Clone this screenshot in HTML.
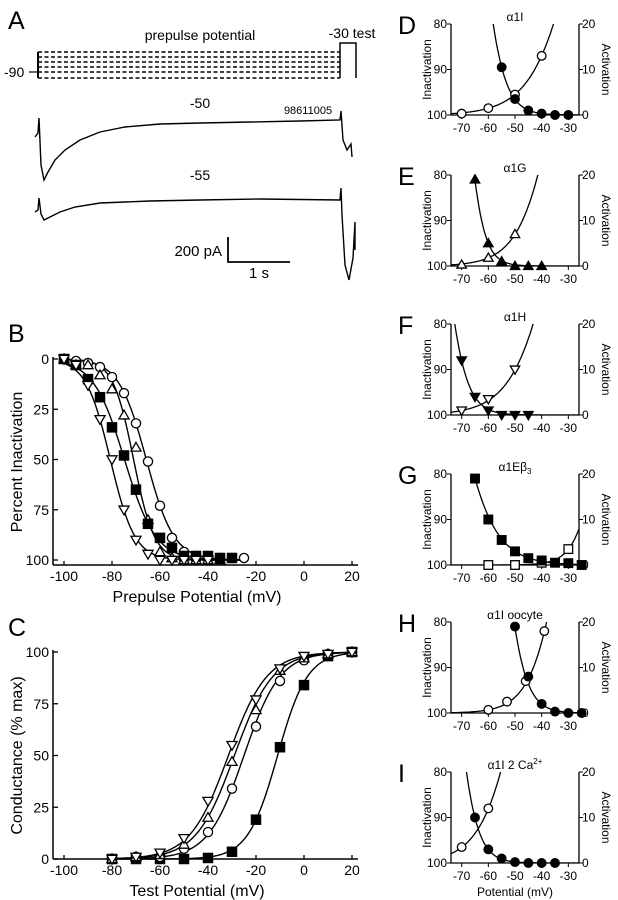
<!DOCTYPE html>
<html><head><meta charset="utf-8"><style>
body{margin:0;background:#fff}
svg{display:block;font-family:"Liberation Sans",sans-serif}
</style></head><body>
<svg id="fig" width="618" height="900" viewBox="0 0 618 900">
<g fill="none" stroke="#000">
<text x="8" y="29" font-size="25" fill="#000" stroke="none">A</text>
<text x="200" y="40" font-size="14" text-anchor="middle" fill="#000" stroke="none">prepulse potential</text>
<text x="352" y="38" font-size="14" text-anchor="middle" fill="#000" stroke="none">-30 test</text>
<text x="4" y="77" font-size="14" fill="#000" stroke="none">-90</text>
<line x1="29" y1="72" x2="38" y2="72" stroke-width="1.2"/>
<line x1="38" y1="52" x2="38" y2="78" stroke-width="2"/>
<g stroke-dasharray="4,2.5" stroke-width="1.5">
<line x1="38" y1="52" x2="340" y2="52"/><line x1="38" y1="57" x2="340" y2="57"/><line x1="38" y1="62" x2="340" y2="62"/><line x1="38" y1="67" x2="340" y2="67"/><line x1="38" y1="72" x2="340" y2="72"/><line x1="38" y1="78" x2="340" y2="78"/>
</g>
<polyline points="340,78 340,43 356,43 356,78" stroke-width="1.5"/>
<text x="200" y="108" font-size="14" text-anchor="middle" fill="#000" stroke="none">-50</text>
<text x="308" y="114" font-size="11" text-anchor="middle" fill="#000" stroke="none">98611005</text>
<path d="M35,137 L38,133 L39,118 L41,165 L44,180 L48,172 L55,160 L65,150 L80,140 L100,132 L125,127 L160,124 L200,123 L250,122 L300,121 L340,120 L341,111 L343,140 L347,150 L351,144 L352,157" stroke-width="1.4"/>
<text x="200" y="180" font-size="14" text-anchor="middle" fill="#000" stroke="none">-55</text>
<path d="M35,212 L38,210 L39,198 L41,214 L44,220 L50,217 L60,212 L75,207 L100,203 L150,201 L200,200 L260,199 L340,200 L341,188 L342,215 L345,265 L349,280 L353,258 L355,222 L355,250" stroke-width="1.4"/>
<polyline points="228,237 228,262 290,262" stroke-width="1.8"/>
<text x="222" y="256" font-size="15" text-anchor="end" fill="#000" stroke="none">200 pA</text>
<text x="259" y="278" font-size="15" text-anchor="middle" fill="#000" stroke="none">1 s</text>
</g>
<g id="gb"></g><g id="gc"></g><g id="gr"></g>
</svg>
<script>
const NS="http://www.w3.org/2000/svg";
function mk(p,t,a){const e=document.createElementNS(NS,t);for(const k in a)e.setAttribute(k,a[k]);p.appendChild(e);return e;}
function txt(p,x,y,s,size,anchor,extra){const e=mk(p,'text',Object.assign({x:x,y:y,'font-size':size,'text-anchor':anchor||'start',fill:'#000'},extra||{}));e.textContent=s;return e;}
function marker(p,shape,x,y,r){
  const filled=shape[0]==='f';const s=shape.slice(1);
  const st={fill:filled?'#000':'#fff',stroke:'#000','stroke-width':1.3};
  let e;
  if(s==='circ')e=mk(p,'circle',Object.assign({cx:x,cy:y,r:r},st));
  else if(s==='sq')e=mk(p,'rect',Object.assign({x:x-r,y:y-r,width:2*r,height:2*r},st));
  else if(s==='up')e=mk(p,'polygon',Object.assign({points:`${x},${y-r*1.1} ${x-r*1.1},${y+r*0.8} ${x+r*1.1},${y+r*0.8}`},st));
  else e=mk(p,'polygon',Object.assign({points:`${x},${y+r*1.1} ${x-r*1.1},${y-r*0.8} ${x+r*1.1},${y-r*0.8}`},st));
  return e;
}
function boltz(v,v50,k){return 100/(1+Math.exp(-(v-v50)/k));}

// ---------- Panel B data ----------
const bVolt=[-100,-95,-90,-85,-80,-75,-70,-65,-60,-55,-50,-45,-40,-35,-30,-25];
const bCircle=[0,1,2,4,9,17,32,51,73,89,96,98,99,99,99,99];
const bTriUp=[0,3,3,8,15,28,44,80,96,99,100,100,100,100,null,null];
const bSquare=[0,3,10,19,34,48,65,82,89,94,98,98,98,99,99,null];
const bTriDown=[0,3,13,30,50,75,90,97,100,100,100,100,100,null,null,null];
const bFitV50=[-65.7,-71,-74.8,-80.7];
const bFitK=[5.75,4.3,6.5,5.1];
// ---------- Panel C data ----------
const cVolt=[-80,-70,-60,-50,-40,-30,-20,-10,0,10,20];
const cSquare=[0,0,0,0,0.5,3.5,19,54,84,98,100];
const cCircle=[0,1,1,5,13,34,64,86,96,99,100];
const cTriUp=[0,1,2,7,20,47,72,91,97,99,100];
const cTriDown=[0,1,3,10,28,55,77,92,98,99,100];
const cFitV50=[-11,-25,-29,-31.5];
const cFitK=[6.2,7.5,8,8];
const xTicks=[-100,-80,-60,-40,-20,0,20];

function xBC(v){return 64+(v+100)*2.4;}
function drawMain(g,name,yMap,yTicks,series,volt,fitV50,fitK,xTitle,yTitle,letter,letterY,axisOff,titleOff){
  
  
  const topY=Math.min(yMap(yTicks[0]),yMap(yTicks[yTicks.length-1]));
  const bot=Math.max(yMap(yTicks[0]),yMap(yTicks[yTicks.length-1]));
  const axisY=bot+axisOff;
  txt(g,8,letterY,letter,25,'start');
  const ya=mk(g,'line',{x1:53,y1:topY-2,x2:53,y2:axisY,stroke:'#000','stroke-width':1.5});
  
  
  const xa=mk(g,'line',{x1:53,y1:axisY,x2:358,y2:axisY,stroke:'#000','stroke-width':1.5});
  
  
  yTicks.forEach(t=>{const y=yMap(t);mk(g,'line',{x1:53,y1:y,x2:58,y2:y,stroke:'#000','stroke-width':1.3});
    const l=txt(g,49,y+5,String(t),14,'end');
    
    });
  xTicks.forEach(t=>{const x=xBC(t);mk(g,'line',{x1:x,y1:axisY,x2:x,y2:axisY-4,stroke:'#000','stroke-width':1.3});
    const l=txt(g,x,axisY+16,String(t),14,'middle');
    
    });
  const xt=txt(g,197,axisY+titleOff,xTitle,16,'middle');
  
  
  const my=(topY+axisY)/2;
  const yt=txt(g,22,my,yTitle,16,'middle',{transform:`rotate(-90 22 ${my})`});
  
  
  series.forEach((s,i)=>{
    let d='';for(let v=volt[0];v<=volt[volt.length-1];v+=0.5){const x=xBC(v),y=yMap(boltz(v,fitV50[i],fitK[i]));d+=(d?'L':'M')+x.toFixed(1)+','+y.toFixed(1);}
    const c=mk(g,'path',{d:d,fill:'none',stroke:'#000','stroke-width':1.4});
    
    
  });
  series.forEach(s=>{s.vals.forEach((v,j)=>{if(v===null)return;
    const m=marker(g,s.shape,xBC(volt[j]),yMap(v),4.6);
    
    });});
}
drawMain(document.getElementById('gb'),'panel-b',v=>359+v*2.01,[0,25,50,75,100],
  [{name:'circle',shape:'ocirc',vals:bCircle},{name:'triangle-up',shape:'oup',vals:bTriUp},{name:'square',shape:'fsq',vals:bSquare},{name:'triangle-down',shape:'odn',vals:bTriDown}],
  bVolt,bFitV50,bFitK,'Prepulse Potential (mV)','Percent Inactivation','B',342,5,37);
drawMain(document.getElementById('gc'),'panel-c',v=>859-v*2.07,[0,25,50,75,100],
  [{name:'square',shape:'fsq',vals:cSquare},{name:'circle',shape:'ocirc',vals:cCircle},{name:'triangle-up',shape:'oup',vals:cTriUp},{name:'triangle-down',shape:'odn',vals:cTriDown}],
  cVolt,cFitV50,cFitK,'Test Potential (mV)','Conductance (% max)','C',636,0,37);

// ---------- Panels D-I data ----------
const panelLetters=['D','E','F','G','H','I'];
const panelTitles=['α1I','α1G','α1H','α1Eβ3','α1I oocyte','α1I 2 Ca2+'];
const panelTops=[24,175,324,474,622,772];
const inactVolt=[[-55,-50,-45,-40,-35,-30],[-65,-60,-55,-50,-45,-40],[-70,-65,-60,-55,-50,-45],[-65,-60,-55,-50,-45,-40,-35,-30,-25],[-50,-45,-40,-35,-30,-25],[-65,-60,-55,-50,-45,-40,-35]];
const inactVals=[[89.5,96.5,99,99.7,100,100],[81,95,99,100,100,100],[88,96,99,100,100,100],[81,90,94.5,97,98.5,99,99.5,99.6,100],[81,92,98,99.7,100,100],[90,97,99,99.8,100,100,100]];
const actVolt=[[-70,-60,-50,-40],[-70,-60,-50],[-70,-60,-50],[-60,-50,-40,-30],[-60,-53,-46,-39],[-70,-60]];
const actVals=[[0.3,1.5,4.5,13],[0.3,1.8,7],[1,3.5,10],[0,0,0.5,3.5],[0.7,2.5,7,18],[3.5,12]];
const inactV50=[-64,-69.9,-78.4,-75.7,-56,-73.6];
const inactK=[4.2,3.36,4.2,7.4,4.1,3.9];
const actV50=[-23.5,-31.6,-31.7,-15,-29.7,-45];
const actK=[8.7,7.1,8.3,4.5,6.1,7.5];
const markerShapes=[['fcirc','ocirc'],['fup','oup'],['fdn','odn'],['fsq','osq'],['fcirc','ocirc'],['fcirc','ocirc']];
const rxTicks=[-70,-60,-50,-40,-30];
const rLeftTicks=[80,90,100];
const rRightTicks=[0,10,20];

const gr=document.getElementById('gr');
const X0=451,X1=579;
function xR(v){return X0+(v+74)*(X1-X0)/48;}
panelTops.forEach((top,i)=>{
  const g=mk(gr,'g',{});
  
  
  const bot=top+91;
  const yL=v=>top+(v-80)*(bot-top)/20;
  const yA=v=>bot-v*(bot-top)/20;
  const clipId='clip'+i;
  const cp=mk(g,'clipPath',{id:clipId});mk(cp,'rect',{x:X0,y:top,width:X1-X0,height:bot-top});
  txt(g,398,top+10,panelLetters[i],25,'start');
  const title=txt(g,515,top-3,'',12,'middle');
  if(panelTitles[i]==='α1Eβ3'){title.textContent='α1Eβ';const t=mk(title,'tspan',{'font-size':8,dy:3});t.textContent='3';}
  else if(panelTitles[i]==='α1I 2 Ca2+'){title.textContent='α1I 2 Ca';const t=mk(title,'tspan',{'font-size':8,dy:-5});t.textContent='2+';}
  else title.textContent=panelTitles[i];
  
  
  mk(g,'polyline',{points:`${X0},${top} ${X0},${bot} ${X1},${bot} ${X1},${top}`,fill:'none',stroke:'#000','stroke-width':1.3});
  rLeftTicks.forEach(t=>{const y=yL(t);mk(g,'line',{x1:X0-4,y1:y,x2:X0,y2:y,stroke:'#000'});
    const l=txt(g,X0-4,y+4,String(t),12,'end');
    
    });
  rRightTicks.forEach(t=>{const y=yA(t);mk(g,'line',{x1:X1,y1:y,x2:X1+4,y2:y,stroke:'#000'});
    const l=txt(g,X1+3,y+4,String(t),12,'start');
    
    });
  rxTicks.forEach(t=>{const x=xR(t);mk(g,'line',{x1:x,y1:bot,x2:x,y2:bot+4,stroke:'#000'});
    const l=txt(g,x,bot+17,String(t),12,'middle');
    
    });
  const my=(top+bot)/2;
  const il=txt(g,431,my,'Inactivation',12,'middle',{transform:`rotate(-90 431 ${my})`});
  
  
  const al=txt(g,602,my,'Activation',12,'middle',{transform:`rotate(90 602 ${my})`});
  
  
  let d1='',d2='';
  for(let v=-74;v<=-26;v+=0.5){d1+=(d1?'L':'M')+xR(v).toFixed(1)+','+yL(boltz(v,inactV50[i],inactK[i])).toFixed(1);
    d2+=(d2?'L':'M')+xR(v).toFixed(1)+','+yA(boltz(v,actV50[i],actK[i])).toFixed(1);}
  const c1=mk(g,'path',{d:d1,fill:'none',stroke:'#000','stroke-width':1.3,'clip-path':`url(#${clipId})`});
  
  
  const c2=mk(g,'path',{d:d2,fill:'none',stroke:'#000','stroke-width':1.3,'clip-path':`url(#${clipId})`});
  
  
  actVolt[i].forEach((v,j)=>{const m=marker(g,markerShapes[i][1],xR(v),yA(actVals[i][j]),4.3);
    
    });
  inactVolt[i].forEach((v,j)=>{const m=marker(g,markerShapes[i][0],xR(v),yL(inactVals[i][j]),4.3);
    
    });
  if(i===5){const pl=txt(g,515,bot+33,'Potential (mV)',12,'middle');
    
    }
});
</script>
</body></html>
